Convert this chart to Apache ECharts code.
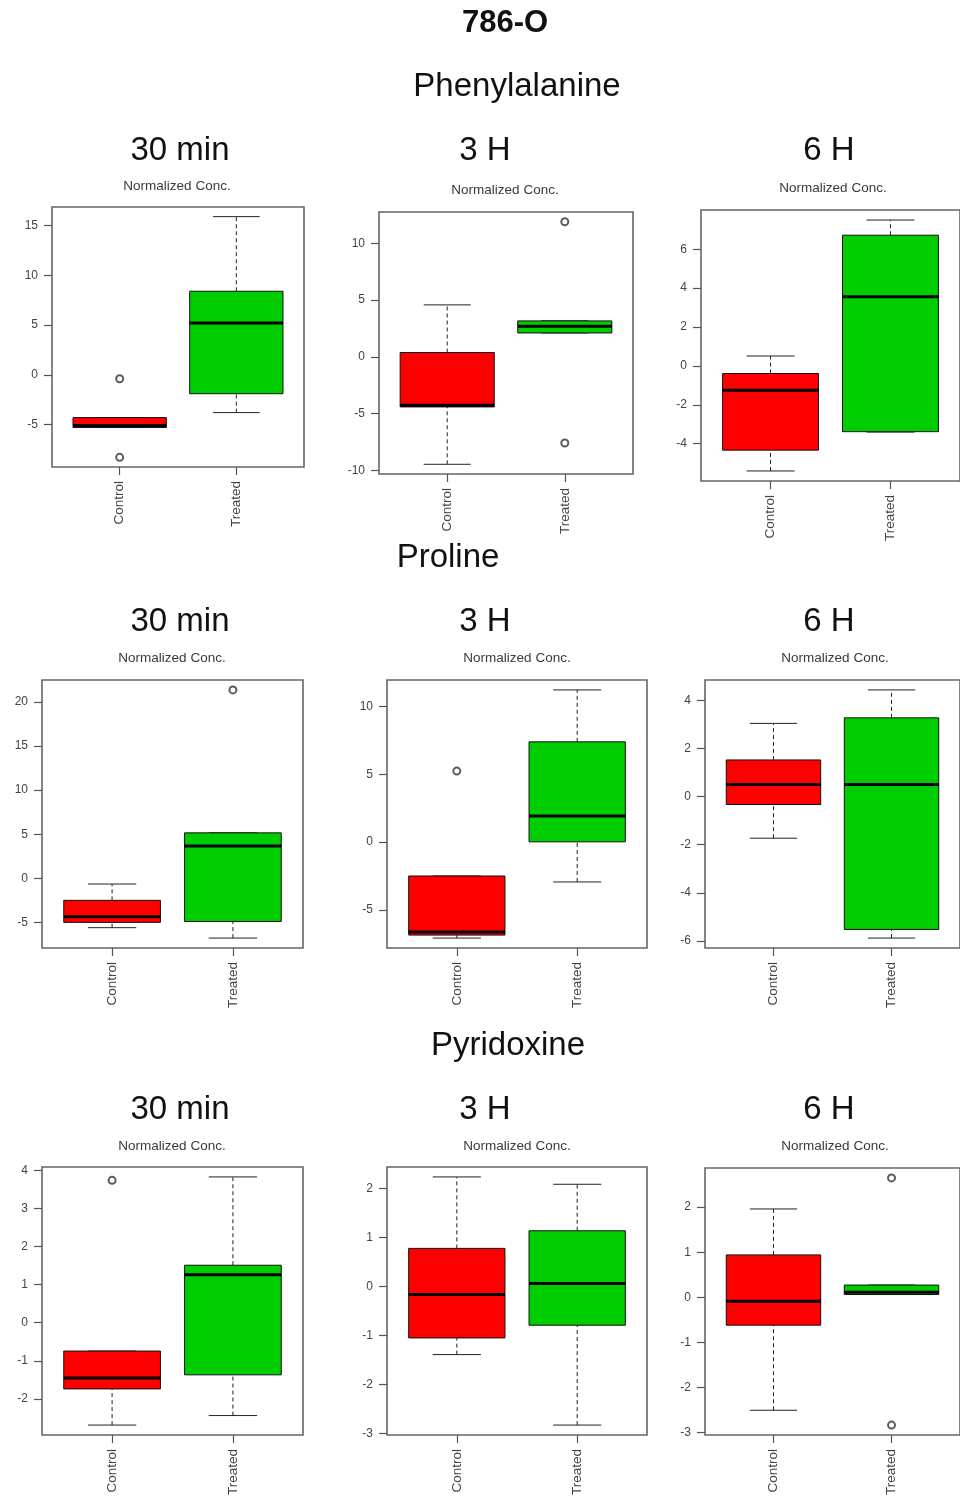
<!DOCTYPE html>
<html><head><meta charset="utf-8">
<script src="https://cdn.jsdelivr.net/npm/echarts@6/dist/echarts.min.js"></script>
<style>html,body{margin:0;padding:0;background:#fff}#c{width:960px;height:1499px}</style>
</head><body><div id="c"></div>
<script>
// ---------- DATA ----------
const groups = ['Control', 'Treated'];
const metabolites = ['Phenylalanine', 'Proline', 'Pyridoxine'];
const timepoints = ['30 min', '3 H', '6 H'];
const cellLine = '786-O';
const yLabel = 'Normalized Conc.';

// five-number summaries: [lower whisker, Q1, median, Q3, upper whisker]
const phe30Control = [-5.3, -5.3, -5.1, -4.3, -4.3];
const phe30Treated = [-3.8, -1.9, 5.2, 8.4, 15.9];
const phe30ControlOut = [-0.4, -8.3];
const phe30TreatedOut = [];

const phe3Control = [-9.45, -4.4, -4.26, 0.39, 4.58];
const phe3Treated = [2.11, 2.11, 2.7, 3.17, 3.17];
const phe3ControlOut = [];
const phe3TreatedOut = [11.9, -7.58];

const phe6Control = [-5.4, -4.33, -1.25, -0.39, 0.51];
const phe6Treated = [-3.4, -3.38, 3.55, 6.72, 7.5];
const phe6ControlOut = [];
const phe6TreatedOut = [];

const pro30Control = [-5.6, -5.0, -4.35, -2.5, -0.65];
const pro30Treated = [-6.78, -4.9, 3.67, 5.15, 5.15];
const pro30ControlOut = [];
const pro30TreatedOut = [21.36];

const pro3Control = [-7.08, -6.86, -6.64, -2.5, -2.5];
const pro3Treated = [-2.94, 0.02, 1.93, 7.4, 11.23];
const pro3ControlOut = [5.24];
const pro3TreatedOut = [];

const pro6Control = [-1.73, -0.33, 0.5, 1.52, 3.04];
const pro6Treated = [-5.88, -5.52, 0.5, 3.27, 4.43];
const pro6ControlOut = [];
const pro6TreatedOut = [];

const pyr30Control = [-2.69, -1.74, -1.45, -0.745, -0.745];
const pyr30Treated = [-2.44, -1.37, 1.26, 1.51, 3.83];
const pyr30ControlOut = [3.74];
const pyr30TreatedOut = [];

const pyr3Control = [-1.39, -1.05, -0.16, 0.78, 2.24];
const pyr3Treated = [-2.83, -0.79, 0.06, 1.14, 2.09];
const pyr3ControlOut = [];
const pyr3TreatedOut = [];

const pyr6Control = [-2.51, -0.62, -0.09, 0.94, 1.96];
const pyr6Treated = [0.06, 0.06, 0.11, 0.27, 0.27];
const pyr6ControlOut = [];
const pyr6TreatedOut = [2.65, -2.84];

// y tick labels
const phe30Ticks = [-5, 0, 5, 10, 15];
const phe3Ticks = [-10, -5, 0, 5, 10];
const phe6Ticks = [-4, -2, 0, 2, 4, 6];
const pro30Ticks = [-5, 0, 5, 10, 15, 20];
const pro3Ticks = [-5, 0, 5, 10];
const pro6Ticks = [-6, -4, -2, 0, 2, 4];
const pyr30Ticks = [-2, -1, 0, 1, 2, 3, 4];
const pyr3Ticks = [-3, -2, -1, 0, 1, 2];
const pyr6Ticks = [-3, -2, -1, 0, 1, 2];

// ---------- LAYOUT ----------
const FONT = '"Liberation Sans", Arial, Helvetica, sans-serif';
const fillColors = ['#FF0000', '#00CD00'];

const panels = [
  {c: phe30Control, t: phe30Treated, co: phe30ControlOut, to: phe30TreatedOut, ticks: phe30Ticks, rect: [52, 207, 252, 260], sub: [177, 186]},
  {c: phe3Control, t: phe3Treated, co: phe3ControlOut, to: phe3TreatedOut, ticks: phe3Ticks, rect: [379, 212, 254, 262], sub: [505, 190]},
  {c: phe6Control, t: phe6Treated, co: phe6ControlOut, to: phe6TreatedOut, ticks: phe6Ticks, rect: [701, 210, 264, 271], sub: [833, 188]},
  {c: pro30Control, t: pro30Treated, co: pro30ControlOut, to: pro30TreatedOut, ticks: pro30Ticks, rect: [42, 680, 261, 268], sub: [172, 658]},
  {c: pro3Control, t: pro3Treated, co: pro3ControlOut, to: pro3TreatedOut, ticks: pro3Ticks, rect: [387, 680, 260, 268], sub: [517, 658]},
  {c: pro6Control, t: pro6Treated, co: pro6ControlOut, to: pro6TreatedOut, ticks: pro6Ticks, rect: [705, 680, 260, 268], sub: [835, 658]},
  {c: pyr30Control, t: pyr30Treated, co: pyr30ControlOut, to: pyr30TreatedOut, ticks: pyr30Ticks, rect: [42, 1167, 261, 268], sub: [172, 1146]},
  {c: pyr3Control, t: pyr3Treated, co: pyr3ControlOut, to: pyr3TreatedOut, ticks: pyr3Ticks, rect: [387, 1167, 260, 268], sub: [517, 1146]},
  {c: pyr6Control, t: pyr6Treated, co: pyr6ControlOut, to: pyr6TreatedOut, ticks: pyr6Ticks, rect: [705, 1168, 260, 267], sub: [835, 1146]}
];
const metaPos = [[517, 87], [448, 558], [508, 1046]];
const timeX = [180, 485, 829];
const timeY = [151, 622, 1110];

function mkTitle(text, x, y, size, weight, color) {
  return {text: text, left: x, top: y, padding: 0, textAlign: 'center', textVerticalAlign: 'middle',
    textStyle: {fontFamily: FONT, fontSize: size, fontWeight: weight || 'normal', color: color || '#111'}};
}

const titles = [mkTitle(cellLine, 505, 23, 31, 'bold')];
metabolites.forEach((m, r) => {
  titles.push(mkTitle(m, metaPos[r][0], metaPos[r][1], 33));
  timepoints.forEach((tp, k) => titles.push(mkTitle(tp, timeX[k], timeY[r], 33)));
});
panels.forEach(p => titles.push(mkTitle(yLabel, p.sub[0], p.sub[1], 13.5, 'normal', '#3a3a3a')));

const grids = [], xAxes = [], yAxes = [], series = [];

function renderBox(params, api) {
  const x = api.value(0);
  const lo = api.value(1), q1 = api.value(2), med = api.value(3), q3 = api.value(4), hi = api.value(5);
  const pt = (xx, yy) => api.coord([xx, yy]);
  const fill = fillColors[Math.round(x) - 1];
  const hw = 0.4, cw = 0.2;
  const dash = {stroke: '#222', lineWidth: 1, lineDash: [4, 3]};
  const solid = {stroke: '#222', lineWidth: 1};
  const a = pt(x - hw, q3), b = pt(x + hw, q1);
  const line = (p1, p2, style) => ({type: 'line', shape: {x1: p1[0], y1: p1[1], x2: p2[0], y2: p2[1]}, style: style});
  const kids = [];
  if (hi > q3) kids.push(line(pt(x, q3), pt(x, hi), dash));
  if (lo < q1) kids.push(line(pt(x, lo), pt(x, q1), dash));
  kids.push(line(pt(x - cw, hi), pt(x + cw, hi), solid));
  kids.push(line(pt(x - cw, lo), pt(x + cw, lo), solid));
  kids.push({type: 'rect', shape: {x: a[0], y: a[1], width: b[0] - a[0], height: b[1] - a[1]},
    style: {fill: fill, stroke: '#111', lineWidth: 1}});
  kids.push(line(pt(x - hw, med), pt(x + hw, med), {stroke: '#000', lineWidth: 3}));
  return {type: 'group', children: kids};
}

panels.forEach((p, i) => {
  const all = p.c.concat(p.t, p.co, p.to);
  const lo = Math.min.apply(null, all), hi = Math.max.apply(null, all);
  const pad = (hi - lo) * 0.04;
  grids.push({left: p.rect[0], top: p.rect[1], width: p.rect[2], height: p.rect[3],
    show: true, borderColor: '#666', borderWidth: 1.6, backgroundColor: 'transparent'});
  xAxes.push({type: 'value', gridIndex: i, min: 0.42, max: 2.58, position: 'bottom',
    splitLine: {show: false}, axisLine: {show: false, onZero: false},
    axisTick: {show: true, length: 8, customValues: [1, 2], lineStyle: {color: '#555', width: 1.2}},
    axisLabel: {show: true, customValues: [1, 2], rotate: 90, margin: 14, fontSize: 13.5, fontFamily: FONT, color: '#444',
      formatter: v => groups[Math.round(v) - 1]}});
  yAxes.push({type: 'value', gridIndex: i, min: lo - pad, max: hi + pad, position: 'left',
    splitLine: {show: false}, axisLine: {show: false, onZero: false},
    axisTick: {show: true, length: 8, customValues: p.ticks, lineStyle: {color: '#555', width: 1.2}},
    axisLabel: {show: true, customValues: p.ticks, margin: 14, fontSize: 12, fontFamily: FONT, color: '#444'}});
  series.push({type: 'custom', xAxisIndex: i, yAxisIndex: i, renderItem: renderBox,
    encode: {x: 0, y: [1, 2, 3, 4, 5]}, silent: true, animation: false,
    data: [[1].concat(p.c), [2].concat(p.t)]});
  const outs = p.co.map(v => [1, v]).concat(p.to.map(v => [2, v]));
  series.push({type: 'scatter', xAxisIndex: i, yAxisIndex: i, symbol: 'emptyCircle', symbolSize: 7,
    itemStyle: {color: '#333', borderWidth: 1}, silent: true, animation: false, data: outs});
});

const chart = echarts.init(document.getElementById('c'), null, {renderer: 'canvas'});
chart.setOption({animation: false, backgroundColor: '#fff', title: titles, grid: grids, xAxis: xAxes, yAxis: yAxes, series: series});
</script></body></html>
